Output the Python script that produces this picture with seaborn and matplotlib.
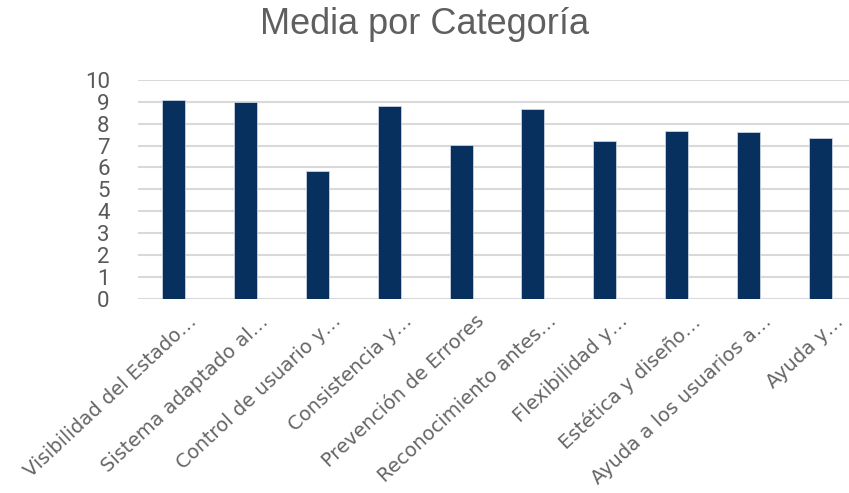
import matplotlib
matplotlib.use("Agg")
import matplotlib.pyplot as plt
import seaborn as sns
import pandas as pd
from matplotlib.transforms import ScaledTranslation

# Categorias (etiquetas truncadas como en el original)
categorias = ["Visibilidad del Estado…", "Sistema adaptado al…", "Control de usuario y…",
              "Consistencia y…", "Prevención de Errores", "Reconocimiento antes…",
              "Flexibilidad y…", "Estética y diseño…", "Ayuda a los usuarios a…",
              "Ayuda y…"]
medias = [9.1, 9.0, 5.82, 8.83, 7.03, 8.69, 7.23, 7.67, 7.6, 7.35]
yticks = list(range(0, 11))

df = pd.DataFrame({"categoria": categorias, "media": medias})

sns.set_theme(style="white")
plt.rcParams['font.family'] = ['DejaVu Sans']

fig = plt.figure(figsize=(8.49, 4.93), dpi=100)
ax = fig.add_axes([137.5 / 849, 1 - 298.7 / 493, 719 / 849, 218.7 / 493])

sns.barplot(data=df, x="categoria", y="media", color="#08305E", width=0.32,
            edgecolor="#C9D3E0", linewidth=0.6, saturation=1, ax=ax)

ax.set_ylim(0, 10)
ax.set_xlim(-0.5, len(categorias) - 0.5)
ax.set_yticks(yticks)
ax.set_yticklabels([str(t) for t in yticks], fontsize=16, color="#595959",
                   family=['Roboto', 'DejaVu Sans'])
ax.yaxis.grid(True, color="#D9D9D9", linewidth=1.5)
ax.set_axisbelow(True)
for s in ax.spines.values():
    s.set_visible(False)
ax.tick_params(axis='both', length=0)
ax.tick_params(axis='y', pad=20)
ax.set_xlabel("")
ax.set_ylabel("")

ax.set_xticks(range(len(categorias)))
ax.set_xticklabels(categorias, rotation=43, ha="right", rotation_mode="anchor",
                   fontsize=14, color="#666666")
offset = ScaledTranslation(14 / 100, -8 / 100, fig.dpi_scale_trans)
for lbl in ax.get_xticklabels():
    lbl.set_transform(lbl.get_transform() + offset)

fig.text(0.5, 1 - 25 / 493, "Media por Categoría", ha="center", va="center",
         fontsize=26, color="#5f5f5f", family=['Liberation Sans', 'DejaVu Sans'])

fig.savefig("out.png", dpi=100)
